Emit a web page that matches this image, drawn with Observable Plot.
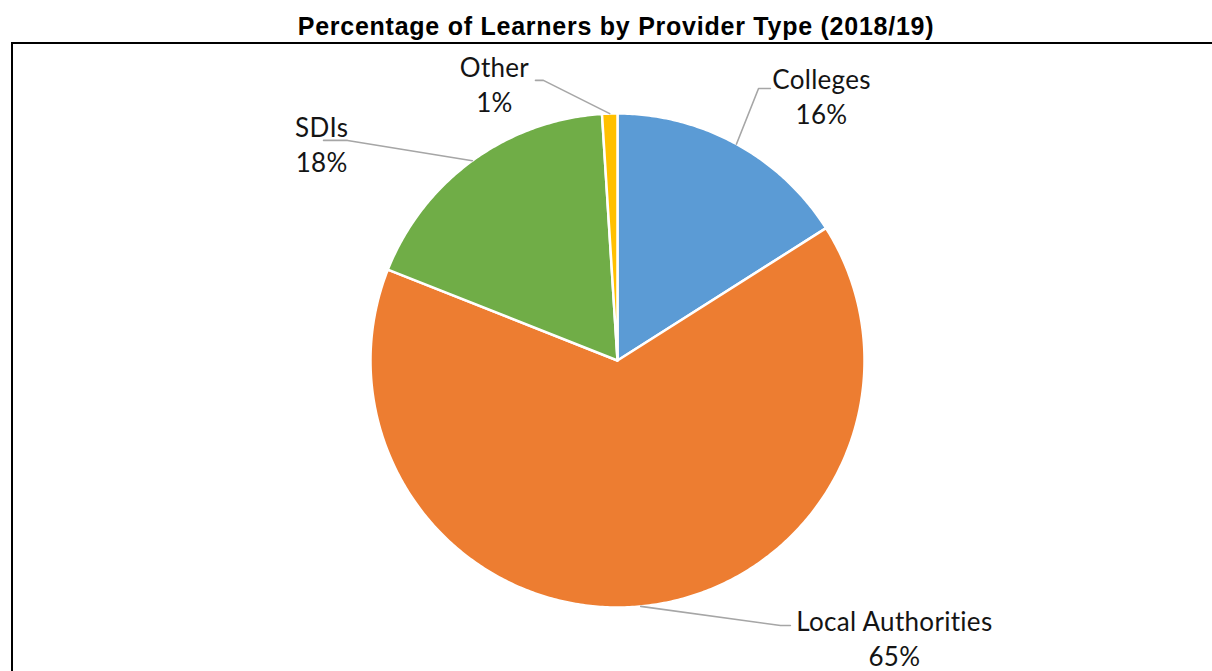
<!DOCTYPE html>
<html>
<head>
<meta charset="utf-8">
<script src="https://cdn.jsdelivr.net/npm/d3@7"></script>
<script src="https://cdn.jsdelivr.net/npm/@observablehq/plot@0.6"></script>
<style>
  html, body { margin: 0; padding: 0; background: #fff; width: 1212px; height: 671px; overflow: hidden; position: relative; }
  #title { position: absolute; top: 14px; left: 616px; transform: translateX(-50%); white-space: nowrap;
           font: bold 25px/24px "Liberation Sans", Arial, sans-serif; letter-spacing: 0.75px; color: #000; }
  #frame { position: absolute; left: 11px; top: 42px; width: 1400px; height: 800px;
           border-left: 2px solid #000; border-top: 2px solid #000; }
  #chart { position: absolute; left: 0; top: 44px; }
</style>
</head>
<body>
<div id="title">Percentage of Learners by Provider Type (2018/19)</div>
<div id="frame"></div>
<div id="chart"></div>
<script>
// ---- data ----
const categories = ["Colleges", "Local Authorities", "SDIs", "Other"];
const percentages = [16, 65, 18, 1];
const colors = ["#5b9bd5", "#ed7d31", "#70ad47", "#ffc000"];

// ---- label layout (in pie-radius units, y up) ----
const labelCenters = [[0.826, 1.073], [1.121, -1.120], [-1.198, 0.880], [-0.498, 1.123]];
const leaderElbows = [[0.571, 1.101], [0.660, -1.073], [-1.093, 0.891], [-0.300, 1.134]];
const leaderEnds   = [[0.619, 1.101], [0.700, -1.073], [-1.190, 0.891], [-0.332, 1.134]];

// ---- geometry ----
const W = 1212, H = 627, cx = 617, cy = 316, R = 247;
const total = d3.sum(percentages);
const arcs = d3.pie().sort(null).value(d => d)(percentages);

const slicePts = [];
arcs.forEach((a, i) => {
  const name = categories[i];
  slicePts.push({name, x: 0, y: 0});
  const n = Math.max(4, Math.ceil((a.endAngle - a.startAngle) / 0.01));
  for (let k = 0; k <= n; k++) {
    const t = a.startAngle + (a.endAngle - a.startAngle) * k / n;
    slicePts.push({name, x: Math.sin(t), y: Math.cos(t)});
  }
  slicePts.push({name, x: 0, y: 0});
});

const leaderPts = [];
arcs.forEach((a, i) => {
  const name = categories[i];
  const m = (a.startAngle + a.endAngle) / 2;
  leaderPts.push({name, x: Math.sin(m), y: Math.cos(m)});
  leaderPts.push({name, x: leaderElbows[i][0], y: leaderElbows[i][1]});
  leaderPts.push({name, x: leaderEnds[i][0], y: leaderEnds[i][1]});
});

const labels = categories.map((name, i) => ({
  name,
  text: name + "\n" + Math.round(percentages[i] / total * 100) + "%",
  x: labelCenters[i][0], y: labelCenters[i][1]
}));

const chart = Plot.plot({
  width: W, height: H,
  marginTop: 0, marginRight: 0, marginBottom: 0, marginLeft: 0,
  style: {background: "transparent", overflow: "visible"},
  x: {domain: [-cx / R, (W - cx) / R], axis: null},
  y: {domain: [-(H - cy) / R, cy / R], axis: null},
  color: {domain: categories, range: colors},
  marks: [
    Plot.line(slicePts, {x: "x", y: "y", z: "name", fill: "name", stroke: "white", strokeWidth: 2.5, strokeLinejoin: "round", curve: "linear"}),
    Plot.line(leaderPts, {x: "x", y: "y", z: "name", stroke: "#a6a6a6", strokeWidth: 1.6, curve: "linear"}),
    Plot.text(labels, {x: "x", y: "y", text: "text", fontSize: 26, lineHeight: 1.35, lineAnchor: "middle",
      textAnchor: "middle", fill: "#141414", fontFamily: "Lato, 'Open Sans', sans-serif"})
  ]
});
chart.querySelectorAll("text").forEach(t => t.style.letterSpacing = "0.3px");
document.getElementById("chart").appendChild(chart);
</script>
</body>
</html>
